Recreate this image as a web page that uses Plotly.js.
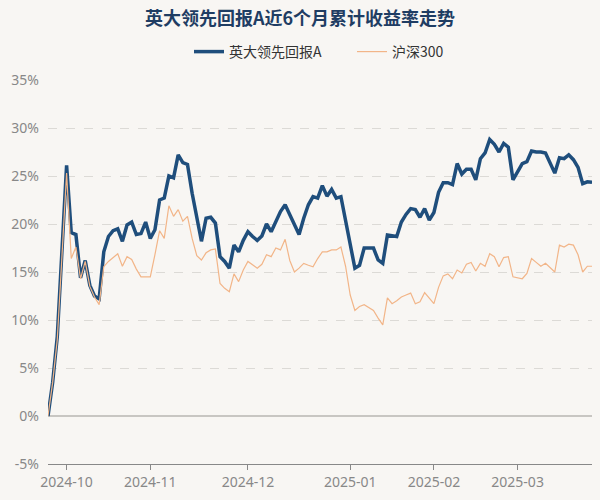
<!DOCTYPE html>
<html>
<head>
<meta charset="utf-8">
<script src="https://cdn.plot.ly/plotly-3.0.1.min.js"></script>
<style>html,body{margin:0;padding:0;background:#f8f6f3;}#chart{width:600px;height:500px;}</style>
</head>
<body>
<div id="chart"></div>
<script>
const dates = [
"2024-09-25","2024-09-26","2024-09-27","2024-09-30",
"2024-10-08","2024-10-09","2024-10-10","2024-10-11","2024-10-14","2024-10-15","2024-10-16","2024-10-17","2024-10-18","2024-10-21","2024-10-22","2024-10-23","2024-10-24","2024-10-25","2024-10-28","2024-10-29","2024-10-30","2024-10-31",
"2024-11-01","2024-11-04","2024-11-05","2024-11-06","2024-11-07","2024-11-08","2024-11-11","2024-11-12","2024-11-13","2024-11-14","2024-11-15","2024-11-18","2024-11-19","2024-11-20","2024-11-21","2024-11-22","2024-11-25","2024-11-26","2024-11-27","2024-11-28","2024-11-29",
"2024-12-02","2024-12-03","2024-12-04","2024-12-05","2024-12-06","2024-12-09","2024-12-10","2024-12-11","2024-12-12","2024-12-13","2024-12-16","2024-12-17","2024-12-18","2024-12-19","2024-12-20","2024-12-23","2024-12-24","2024-12-25","2024-12-26","2024-12-27","2024-12-30","2024-12-31",
"2025-01-02","2025-01-03","2025-01-06","2025-01-07","2025-01-08","2025-01-09","2025-01-10","2025-01-13","2025-01-14","2025-01-15","2025-01-16","2025-01-17","2025-01-20","2025-01-21","2025-01-22","2025-01-23","2025-01-24","2025-01-27",
"2025-02-05","2025-02-06","2025-02-07","2025-02-10","2025-02-11","2025-02-12","2025-02-13","2025-02-14","2025-02-17","2025-02-18","2025-02-19","2025-02-20","2025-02-21","2025-02-24","2025-02-25","2025-02-26","2025-02-27","2025-02-28",
"2025-03-03","2025-03-04","2025-03-05","2025-03-06","2025-03-07","2025-03-10","2025-03-11","2025-03-12","2025-03-13","2025-03-14","2025-03-17","2025-03-18","2025-03-19","2025-03-20","2025-03-21","2025-03-24","2025-03-25"
];

const fundName = "英大领先回报A";
const fundValues = [
0,3.5,8.3,17,
26.1,19.1,18.9,14.4,16.2,13.6,12.5,12.2,17.1,18.7,19.3,19.5,18.2,19.9,20.2,18.9,19.0,20.2,
18.5,19.4,22.5,22.7,25.0,24.8,27.2,26.4,26.2,23.2,20.6,18.2,20.6,20.7,20.1,16.6,16.1,15.4,17.8,17.1,18.3,
19.2,18.7,18.3,18.75,20.0,19.2,20.2,21.3,22.0,20.9,19.9,18.9,20.6,22.0,22.85,22.7,24.0,22.9,23.6,22.7,22.85,20.2,
17.8,15.4,15.7,17.5,17.5,17.5,16.25,15.9,18.85,18.75,18.7,20.2,21.0,21.6,21.5,20.7,21.6,20.4,
21.2,23.3,24.3,24.3,24.1,26.3,25.2,25.7,25.7,24.6,26.8,27.4,28.8,28.3,27.5,28.4,28.0,24.6,
25.5,26.3,26.5,27.6,27.5,27.5,27.4,26.4,25.3,26.9,26.8,27.2,26.7,25.9,24.2,24.4,24.35
];

const indexName = "沪深300";
const indexValues = [
0,3.5,8.0,16.5,
25.3,16.4,17.6,14.3,16.1,13.5,12.4,11.6,15.55,16.1,16.5,16.9,15.6,16.6,16.3,15.3,14.5,14.5,
14.5,16.8,19.3,18.5,21.9,20.8,21.5,20.3,20.8,18.5,16.7,16.25,17.0,17.3,17.4,13.8,13.3,12.95,14.8,14.0,15.2,
16.1,15.7,15.4,15.8,16.8,16.6,17.5,17.3,18.4,16.2,15.0,15.4,15.9,15.7,15.55,16.4,17.1,17.1,17.3,17.3,17.6,15.6,
12.6,11.0,11.4,11.6,11.3,11.0,10.2,9.5,12.3,11.7,12.0,12.4,12.6,12.8,11.7,11.9,12.85,12.3,
11.7,13.4,14.6,14.8,14.3,15.2,14.9,15.8,16.0,15.1,15.9,15.6,16.9,16.6,15.55,16.5,16.6,14.5,
14.4,14.3,14.85,16.4,16.0,15.6,15.9,15.5,15.0,17.8,17.6,17.9,17.8,16.8,15.0,15.6,15.6
];

const tickDates = ["2024-10-08","2024-11-01","2024-12-02","2025-01-02","2025-02-05","2025-03-03"];
const tickLabels = ["2024-10","2024-11","2024-12","2025-01","2025-02","2025-03"];
const yTicks = [-5,0,5,10,15,20,25,30,35];
const yTickLabels = ["-5%","0%","5%","10%","15%","20%","25%","30%","35%"];

const traces = [
  {x: dates, y: fundValues, name: fundName, type: "scatter", mode: "lines",
   line: {color: "#1f4e7c", width: 3.5}},
  {x: dates, y: indexValues, name: indexName, type: "scatter", mode: "lines",
   line: {color: "#f2b588", width: 1.2}}
];

const layout = {
  width: 600, height: 500,
  paper_bgcolor: "#f8f6f3", plot_bgcolor: "#f8f6f3",
  margin: {l: 48, r: 8, t: 80, b: 36},
  title: {text: "英大领先回报A近6个月累计收益率走势", x: 0.5, xanchor: "center",
    y: 0.962, yref: "container", yanchor: "middle",
    font: {family: "Noto Sans CJK SC, sans-serif", size: 18, color: "#1f3d63", weight: "bold"}},
  showlegend: true,
  legend: {orientation: "h", x: 189/600, xanchor: "left", xref: "container",
    y: 0.896, yref: "container", yanchor: "middle",
    font: {family: "Noto Sans CJK SC, sans-serif", size: 14, color: "#333"},
    bgcolor: "rgba(0,0,0,0)", itemwidth: 30, traceorder: "normal",
    entrywidth: 118, entrywidthmode: "pixels"},
  xaxis: {type: "category", range: [0, dates.length - 1], tickmode: "array",
    tickvals: tickDates, ticktext: tickLabels, ticks: "outside", ticklen: 5,
    tickcolor: "#888", showgrid: false, showline: true, linecolor: "#888", linewidth: 1,
    tickfont: {family: "Noto Sans, sans-serif", size: 14, color: "#888"}, zeroline: false,
    fixedrange: true},
  yaxis: {range: [-5, 35], tickmode: "array", tickvals: yTicks, ticktext: yTickLabels,
    showgrid: true, gridcolor: "#dcdad6", griddash: "dash", gridwidth: 1,
    zeroline: true, zerolinecolor: "#c8c6c2", zerolinewidth: 2,
    showline: false, ticks: "", ticklabelstandoff: 8,
    tickfont: {family: "Noto Sans, sans-serif", size: 14, color: "#888"},
    fixedrange: true}
};

Plotly.newPlot("chart", traces, layout, {displayModeBar: false, staticPlot: true});
</script>
</body>
</html>
